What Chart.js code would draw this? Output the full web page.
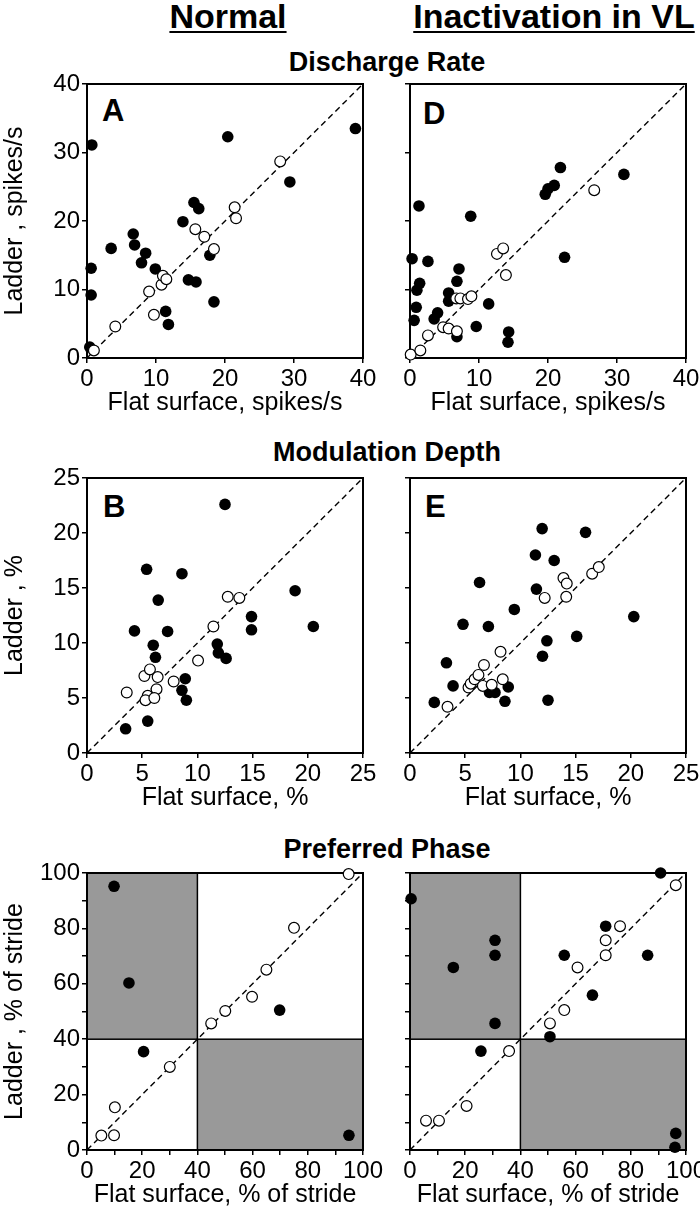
<!DOCTYPE html>
<html>
<head>
<meta charset="utf-8">
<script src="https://cdn.jsdelivr.net/npm/chart.js@4.4.0/dist/chart.umd.min.js"></script>
<style>
  body { margin: 0; width: 700px; height: 1209px; position: relative; overflow: hidden; background: #fff;
         font-family: 'Liberation Sans', Arial, sans-serif; color: #000; }
  canvas { position: absolute; }
  .t { position: absolute; font-weight: bold; line-height: 1; white-space: nowrap; }
  .hd { font-size: 34px; text-align: center; width: 320px; }
  .hd span { text-decoration: underline; text-decoration-thickness: 2px; text-underline-offset: 3px; }
  .sec { font-size: 27px; text-align: center; width: 400px; left: 187px; }
  .let { font-size: 31px; }
</style>
</head>
<body>
<div class="t hd" style="left:68px;top:-1px"><span>Normal</span></div>
<div class="t hd" style="left:394px;top:-1px"><span>Inactivation in VL</span></div>
<div class="t sec" style="top:49px">Discharge Rate</div>
<div class="t sec" style="top:439px">Modulation Depth</div>
<div class="t sec" style="top:836px">Preferred Phase</div>
<div class="t let" style="left:102px;top:95px">A</div>
<div class="t let" style="left:423px;top:98px">D</div>
<div class="t let" style="left:103px;top:491px">B</div>
<div class="t let" style="left:425px;top:491px">E</div>
<div class="t let" style="left:103px;top:891px">C</div>
<div class="t let" style="left:423px;top:884px">F</div>

<script>
// ---- data (x = flat surface, y = ladder) ----
const rateTicks = [0, 10, 20, 30, 40];
const depthTicks = [0, 5, 10, 15, 20, 25];
const phaseTicks = [0, 20, 40, 60, 80, 100];
const phaseMinor = [0, 10, 20, 30, 40, 50, 60, 70, 80, 90, 100];

const normalRateFilled = [
  [0.7, 31.1], [0.4, 1.6], [0.6, 13.1], [0.6, 9.2], [3.5, 16.0], [6.7, 18.1], [6.9, 16.5],
  [8.5, 15.3], [7.9, 13.9], [9.9, 13.0], [13.9, 19.9], [15.5, 22.7], [16.2, 21.8], [14.7, 11.4],
  [15.8, 11.1], [17.8, 15.0], [18.4, 8.2], [11.4, 6.8], [11.8, 4.9], [20.4, 32.3], [29.4, 25.7],
  [38.9, 33.5]
];
const normalRateOpen = [
  [1.0, 1.1], [4.1, 4.6], [9.0, 9.7], [9.7, 6.3], [10.8, 10.7], [11.0, 12.0], [11.5, 11.5],
  [15.7, 18.8], [17.0, 17.7], [18.4, 15.9], [21.4, 22.0], [21.6, 20.4], [28.0, 28.7]
];
const vlRateFilled = [
  [1.3, 22.2], [0.3, 14.5], [2.6, 14.1], [1.0, 9.9], [1.4, 10.9], [0.9, 7.4], [0.6, 5.5],
  [3.5, 5.7], [4.0, 6.6], [5.6, 9.5], [5.6, 8.3], [6.8, 11.2], [7.1, 13.0], [6.8, 3.1],
  [8.8, 20.7], [9.6, 4.6], [11.4, 7.9], [14.3, 3.8], [14.2, 2.3], [19.6, 23.9], [20.0, 24.7],
  [20.9, 25.2], [21.8, 27.8], [22.4, 14.7], [31.0, 26.8]
];
const vlRateOpen = [
  [0.1, 0.5], [1.5, 1.1], [2.6, 3.3], [4.8, 4.5], [5.6, 4.3], [6.8, 3.9], [6.7, 8.7],
  [7.3, 8.7], [8.4, 8.6], [8.9, 9.0], [12.6, 15.2], [13.5, 16.0], [13.9, 12.1], [26.7, 24.5]
];
const normalDepthFilled = [
  [5.4, 16.7], [8.6, 16.3], [6.45, 13.9], [4.3, 11.1], [7.3, 11.05], [6.0, 9.8], [6.2, 8.7],
  [8.9, 6.75], [8.6, 5.7], [9.0, 4.8], [3.5, 2.2], [5.5, 2.9], [11.8, 9.9], [11.9, 9.1],
  [12.6, 8.6], [14.9, 12.4], [14.9, 11.2], [12.5, 22.6], [18.85, 14.75], [20.5, 11.5]
];
const normalDepthOpen = [
  [3.6, 5.5], [5.2, 7.0], [5.7, 7.6], [6.4, 6.9], [6.3, 5.8], [5.5, 5.2], [5.3, 4.8],
  [6.1, 5.0], [7.85, 6.5], [10.06, 8.4], [11.45, 11.5], [12.75, 14.2], [13.8, 14.1]
];
const vlDepthFilled = [
  [11.97, 20.4], [15.9, 20.06], [11.36, 18.0], [13.06, 17.5], [6.3, 15.5], [11.45, 14.9],
  [9.45, 13.05], [4.8, 11.7], [7.1, 11.5], [12.4, 10.2], [15.1, 10.6], [20.27, 12.4],
  [12.0, 8.8], [3.3, 8.2], [3.9, 6.1], [8.9, 6.0], [7.2, 5.5], [7.7, 5.5], [8.6, 4.7],
  [12.5, 4.8], [2.2, 4.6]
];
const vlDepthOpen = [
  [3.4, 4.2], [5.3, 5.95], [5.5, 6.3], [5.85, 6.7], [6.2, 7.1], [6.7, 8.0], [6.6, 6.1],
  [7.4, 6.2], [8.4, 6.7], [8.2, 9.2], [12.2, 14.1], [14.15, 14.2], [13.9, 15.9], [14.2, 15.4],
  [16.5, 16.3], [17.1, 16.9]
];
const normalPhaseFilled = [[9.8, 95.2], [15.2, 60.3], [20.5, 35.5], [69.8, 50.5], [94.9, 5.3]];
const normalPhaseOpen = [
  [5.2, 5.2], [9.8, 5.3], [10.1, 15.4], [30.0, 30.0], [45.0, 45.7], [50.1, 50.2], [59.8, 55.3],
  [65.0, 65.1], [75.0, 80.2], [94.8, 99.6]
];
const vlPhaseFilled = [
  [0.4, 90.7], [90.8, 100], [15.7, 65.9], [30.8, 75.7], [30.8, 70.3], [30.8, 45.7], [25.7, 35.7],
  [50.7, 40.9], [55.9, 70.3], [66.1, 55.9], [70.9, 80.8], [86.1, 70.3], [96.3, 6.0], [96.0, 1.0]
];
const vlPhaseOpen = [
  [5.8, 10.6], [10.5, 10.6], [20.5, 15.9], [35.9, 35.7], [50.7, 45.7], [55.9, 50.5], [60.7, 65.9],
  [70.9, 75.7], [70.9, 70.3], [76.1, 80.8], [96.3, 95.6]
];
// out-of-phase quadrants [xMin, xMax, yMin, yMax]
const phaseShade = [[0, 40, 40, 100], [40, 100, 0, 40]];

Chart.defaults.font.family = "'Liberation Sans', Arial, sans-serif";
Chart.defaults.color = '#000';

const rowArea = [[84, 358], [478, 753], [873, 1150]];
const colArea = [[87, 363], [410, 686]];
const xTitles = ['Flat surface, spikes/s', 'Flat surface, %', 'Flat surface, % of stride'];
const yTitles = ['Ladder , spikes/s', 'Ladder , %', 'Ladder , % of stride'];

const panels = [
  { row: 0, col: 0, filled: normalRateFilled, open: normalRateOpen, labels: rateTicks, steps: rateTicks },
  { row: 0, col: 1, filled: vlRateFilled, open: vlRateOpen, labels: rateTicks, steps: rateTicks },
  { row: 1, col: 0, filled: normalDepthFilled, open: normalDepthOpen, labels: depthTicks, steps: depthTicks },
  { row: 1, col: 1, filled: vlDepthFilled, open: vlDepthOpen, labels: depthTicks, steps: depthTicks },
  { row: 2, col: 0, filled: normalPhaseFilled, open: normalPhaseOpen, labels: phaseTicks, steps: phaseMinor, shade: phaseShade },
  { row: 2, col: 1, filled: vlPhaseFilled, open: vlPhaseOpen, labels: phaseTicks, steps: phaseMinor, shade: phaseShade }
];

const toPts = arr => arr.map(p => ({ x: p[0], y: p[1] }));

const framePlugin = {
  id: 'frame',
  beforeDatasetsDraw(chart, args, opts) {
    const { ctx, chartArea: a, scales: { x, y } } = chart;
    ctx.save();
    (opts.shade || []).forEach(r => {
      const x0 = x.getPixelForValue(r[0]), x1 = x.getPixelForValue(r[1]);
      const y0 = y.getPixelForValue(r[3]), y1 = y.getPixelForValue(r[2]);
      ctx.fillStyle = '#999999';
      ctx.fillRect(x0, y0, x1 - x0, y1 - y0);
      ctx.strokeStyle = '#000';
      ctx.lineWidth = 1.5;
      ctx.strokeRect(x0, y0, x1 - x0, y1 - y0);
    });
    ctx.strokeStyle = '#000';
    ctx.lineWidth = 2;
    ctx.strokeRect(a.left, a.top, a.right - a.left, a.bottom - a.top);
    ctx.restore();
  }
};

function axis(p, horizontal) {
  const lo = p.steps[0], hi = p.steps[p.steps.length - 1];
  const showTitle = horizontal || p.col === 0;
  return {
    type: 'linear',
    min: lo,
    max: hi,
    afterBuildTicks(s) { s.ticks = p.steps.map(v => ({ value: v })); },
    afterFit(s) {
      if (horizontal) { s.height = 60; s.paddingLeft = 0; s.paddingRight = 0; }
      else { s.width = p.col === 0 ? 87 : 12; s.paddingTop = 0; s.paddingBottom = 0; }
    },
    ticks: {
      display: true,
      autoSkip: false,
      maxRotation: 0,
      padding: 2,
      font: { size: 24 },
      color: '#000',
      callback: v => (horizontal || p.col === 0) && p.labels.includes(v) ? String(v) : ''
    },
    grid: { display: true, drawOnChartArea: false, drawTicks: true, tickLength: 5, color: '#000', lineWidth: 1.5 },
    border: { display: true, color: '#000', width: 2 },
    title: {
      display: showTitle,
      text: horizontal ? xTitles[p.row] : yTitles[p.row],
      font: { size: 25 },
      color: '#000',
      padding: 0
    }
  };
}

panels.forEach(p => {
  const [top, bottom] = rowArea[p.row];
  const [left, right] = colArea[p.col];
  const cLeft = p.col === 0 ? 0 : 398;
  const cWidth = p.col === 0 ? 392 : 302;
  const cTop = top - 12;
  const cHeight = bottom + 60 - cTop;
  const cv = document.createElement('canvas');
  cv.width = cWidth; cv.height = cHeight;
  cv.style.left = cLeft + 'px'; cv.style.top = cTop + 'px';
  cv.style.width = cWidth + 'px'; cv.style.height = cHeight + 'px';
  document.body.appendChild(cv);
  const lo = p.steps[0], hi = p.steps[p.steps.length - 1];

  new Chart(cv, {
    type: 'scatter',
    data: {
      datasets: [
        { type: 'line', data: [{ x: lo, y: lo }, { x: hi, y: hi }], borderColor: '#000', borderWidth: 1.4,
          borderDash: [6, 4], pointRadius: 0, fill: false, order: 3 },
        { data: toPts(p.filled), backgroundColor: '#000', borderColor: '#000', borderWidth: 0,
          pointRadius: 5.8, clip: false, order: 2 },
        { data: toPts(p.open), backgroundColor: '#fff', borderColor: '#000', borderWidth: 1.2,
          pointRadius: 5.4, clip: false, order: 1 }
      ]
    },
    options: {
      responsive: false,
      animation: false,
      events: [],
      layout: { padding: { top: 12, bottom: 0, left: 0, right: (cLeft + cWidth) - right } },
      scales: { x: axis(p, true), y: axis(p, false) },
      plugins: { legend: { display: false }, tooltip: { enabled: false }, frame: { shade: p.shade } }
    },
    plugins: [framePlugin]
  });
});
</script>
</body>
</html>
